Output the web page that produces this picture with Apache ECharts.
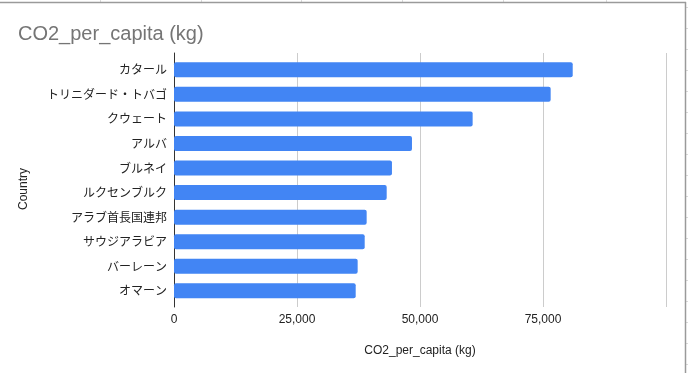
<!DOCTYPE html>
<html><head><meta charset="utf-8">
<script src="https://cdn.jsdelivr.net/npm/echarts@6/dist/echarts.min.js"></script>
<style>html,body{margin:0;padding:0;background:#fff}#c{width:688px;height:373px}</style>
</head><body><div id="c"></div>
<script>
const countries = ["カタール","トリニダード・トバゴ","クウェート","アルバ","ブルネイ","ルクセンブルク","アラブ首長国連邦","サウジアラビア","バーレーン","オマーン"];
const co2PerCapita = [81040,76560,60700,48370,44300,43230,39160,38760,37330,36930];
const xTicks = [0,25000,50000,75000,100000];
const titleText = "CO2_per_capita (kg)";
const xAxisName = "CO2_per_capita (kg)";
const yAxisName = "Country";

const chart = echarts.init(document.getElementById('c'), null, {renderer:'canvas'});
const sheetCols = [100,201,301,402,503,606];
const sheetRows = [];
for (let y = 7; y < 373; y += 21) sheetRows.push(y);
const graphics = [];
sheetCols.forEach(x => graphics.push({type:'line', shape:{x1:x+0.5,y1:0,x2:x+0.5,y2:2}, style:{stroke:'#dadada',lineWidth:1}, silent:true}));
sheetRows.forEach(y => graphics.push({type:'line', shape:{x1:686,y1:y+0.5,x2:688,y2:y+0.5}, style:{stroke:'#dadada',lineWidth:1}, silent:true}));
graphics.push({type:'line', shape:{x1:0,y1:2.5,x2:686,y2:2.5}, style:{stroke:'#9a9a9a',lineWidth:1.5}, silent:true});
graphics.push({type:'line', shape:{x1:685.5,y1:2,x2:685.5,y2:373}, style:{stroke:'#9a9a9a',lineWidth:1.5}, silent:true});
graphics.push({type:'text', x:24, y:189, rotation:Math.PI/2, style:{text:yAxisName, fill:'#222', font:'12px Arial, "Liberation Sans"', textAlign:'center', textVerticalAlign:'middle'}, silent:true});

const fmt = v => v >= 100000 ? '' : v.toLocaleString('en-US');

chart.setOption({
  animation:false,
  backgroundColor:'#fff',
  title:{text:titleText, left:13, top:19, textStyle:{fontFamily:'Arial, "Liberation Sans"', fontSize:20, fontWeight:'normal', color:'#757575'}},
  graphic:graphics,
  grid:[
    {left:174, width:492, top:57.5, height:245.6},
    {left:174, width:492, top:53, height:254}
  ],
  xAxis:[
    {gridIndex:0, type:'value', min:xTicks[0], max:xTicks[xTicks.length-1], interval:25000, show:false},
    {gridIndex:1, type:'value', min:xTicks[0], max:xTicks[xTicks.length-1], interval:25000,
     axisLine:{show:false}, axisTick:{show:false},
     splitLine:{show:true, lineStyle:{color:'#cccccc', width:1}},
     axisLabel:{formatter:fmt, color:'#222', fontSize:12, fontFamily:'Arial, "Liberation Sans"', margin:7},
     name:xAxisName, nameLocation:'middle', nameGap:38,
     nameTextStyle:{color:'#222', fontSize:12, fontFamily:'Arial, "Liberation Sans"'}}
  ],
  yAxis:[
    {gridIndex:0, type:'category', data:countries, inverse:true,
     axisLine:{show:false}, axisTick:{show:false}, splitLine:{show:false},
     axisLabel:{color:'#222', fontSize:12, fontFamily:'"Noto Sans CJK JP", sans-serif', margin:7}},
    {gridIndex:1, type:'value', min:0, max:1,
     axisLine:{show:true, lineStyle:{color:'#333', width:1}}, axisTick:{show:false},
     axisLabel:{show:false}, splitLine:{show:false}}
  ],
  series:[{
    type:'bar', xAxisIndex:0, yAxisIndex:0, data:co2PerCapita,
    barCategoryGap:'39%', itemStyle:{color:'#4285f4', borderRadius:2}
  }]
});
</script></body></html>
